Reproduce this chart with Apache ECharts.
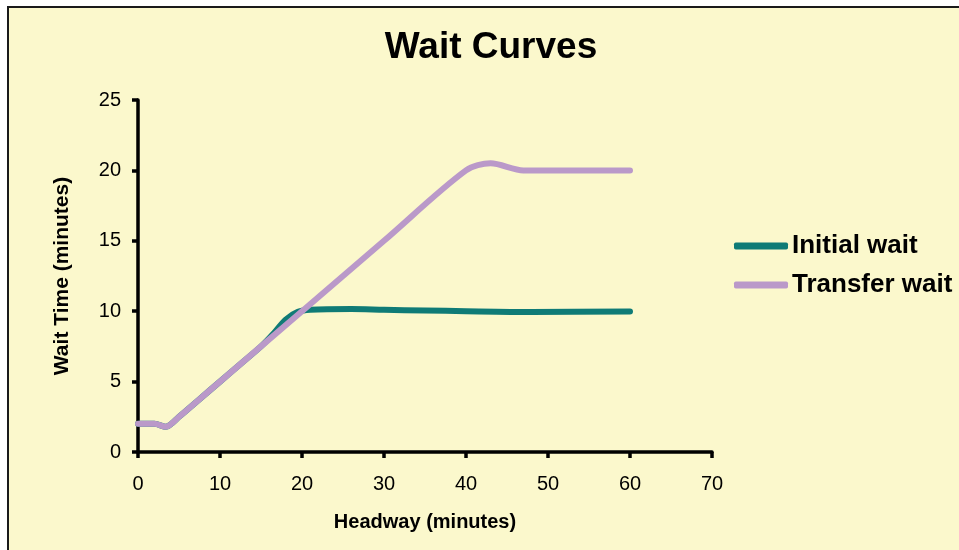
<!DOCTYPE html>
<html>
<head>
<meta charset="utf-8">
<title>Wait Curves</title>
<script src="https://cdn.jsdelivr.net/npm/echarts@6/dist/echarts.min.js"></script>
<style>
  html, body { margin: 0; padding: 0; background: #ffffff; }
  #chart { width: 959px; height: 550px; }
</style>
</head>
<body>
<div id="chart"></div>
<script>
// Headway (minutes) vs. expected wait time (minutes)
const initialHeadway = [0, 2, 3.4, 5, 7.5, 10, 12.5, 15, 16.5, 18, 19.5, 21, 26, 30, 35, 40, 48, 60];
const initialWait    = [2, 2, 1.8, 2.5, 3.75, 5, 6.25, 7.5, 8.4, 9.4, 9.95, 10.1, 10.15, 10.1, 10.05, 10, 9.95, 9.97];

const transferHeadway = [0, 2, 3.4, 5, 7.5, 10, 20, 30, 40, 43, 47, 50, 60];
const transferWait    = [2, 2, 1.8, 2.5, 3.75, 5, 10, 15, 20, 20.5, 20, 20, 20];

const xTicks = [0, 10, 20, 30, 40, 50, 60, 70];
const yTicks = [0, 5, 10, 15, 20, 25];

const seriesNames = ['Initial wait', 'Transfer wait'];
const seriesColors = ['#0f7b76', '#ba99c9'];

const pairs = (xs, ys) => xs.map((x, i) => [x, ys[i]]);

const FONT = '"Liberation Sans", Arial, sans-serif';

const chart = echarts.init(document.getElementById('chart'), null, { renderer: 'canvas' });

chart.setOption({
  animation: false,
  backgroundColor: '#ffffff',
  textStyle: { fontFamily: FONT },
  graphic: [{
    type: 'rect',
    z: -100,
    silent: true,
    shape: { x: 8, y: 7, width: 970, height: 570 },
    style: { fill: '#fbf8cc', stroke: '#1a1a1a', lineWidth: 2 }
  }],
  title: {
    text: 'Wait Curves',
    left: 486,
    textAlign: 'center',
    top: 24,
    textStyle: { fontFamily: FONT, fontSize: 37, fontWeight: 'bold', color: '#000' }
  },
  legend: {
    orient: 'vertical',
    left: 729,
    top: 228,
    itemWidth: 54,
    itemHeight: 7,
    itemGap: 13,
    icon: 'roundRect',
    data: seriesNames,
    textStyle: { fontFamily: FONT, fontSize: 26, fontWeight: 'bold', color: '#000', padding: [0, 0, 0, -1] }
  },
  grid: { left: 138, right: 247, top: 100, bottom: 98 },
  xAxis: {
    type: 'value',
    min: xTicks[0],
    max: xTicks[xTicks.length - 1],
    interval: 10,
    name: 'Headway (minutes)',
    nameLocation: 'middle',
    nameGap: 60,
    nameTextStyle: { fontFamily: FONT, fontSize: 20, fontWeight: 'bold', color: '#000' },
    axisLine: { show: true, lineStyle: { color: '#000', width: 3.5 } },
    axisTick: { show: true, length: 6, lineStyle: { color: '#000', width: 3.5 } },
    axisLabel: { fontFamily: FONT, fontSize: 20, color: '#000', margin: 22 },
    splitLine: { show: false }
  },
  yAxis: {
    type: 'value',
    min: yTicks[0],
    max: yTicks[yTicks.length - 1],
    interval: 5,
    name: 'Wait Time (minutes)',
    nameLocation: 'middle',
    nameGap: 65,
    nameTextStyle: { fontFamily: FONT, fontSize: 21, fontWeight: 'bold', color: '#000' },
    axisLine: { show: true, lineStyle: { color: '#000', width: 3.5 } },
    axisTick: { show: true, length: 6, lineStyle: { color: '#000', width: 3.5 } },
    axisLabel: { fontFamily: FONT, fontSize: 20, color: '#000', margin: 17 },
    splitLine: { show: false }
  },
  series: [
    {
      name: seriesNames[0],
      type: 'line',
      data: pairs(initialHeadway, initialWait),
      smooth: 0.3,
      showSymbol: false,
      color: seriesColors[0],
      lineStyle: { width: 6, color: seriesColors[0], cap: 'round', join: 'round' },
      z: 2
    },
    {
      name: seriesNames[1],
      type: 'line',
      data: pairs(transferHeadway, transferWait),
      smooth: 0.3,
      showSymbol: false,
      color: seriesColors[1],
      lineStyle: { width: 6, color: seriesColors[1], cap: 'round', join: 'round' },
      z: 3
    }
  ]
});
</script>
</body>
</html>
